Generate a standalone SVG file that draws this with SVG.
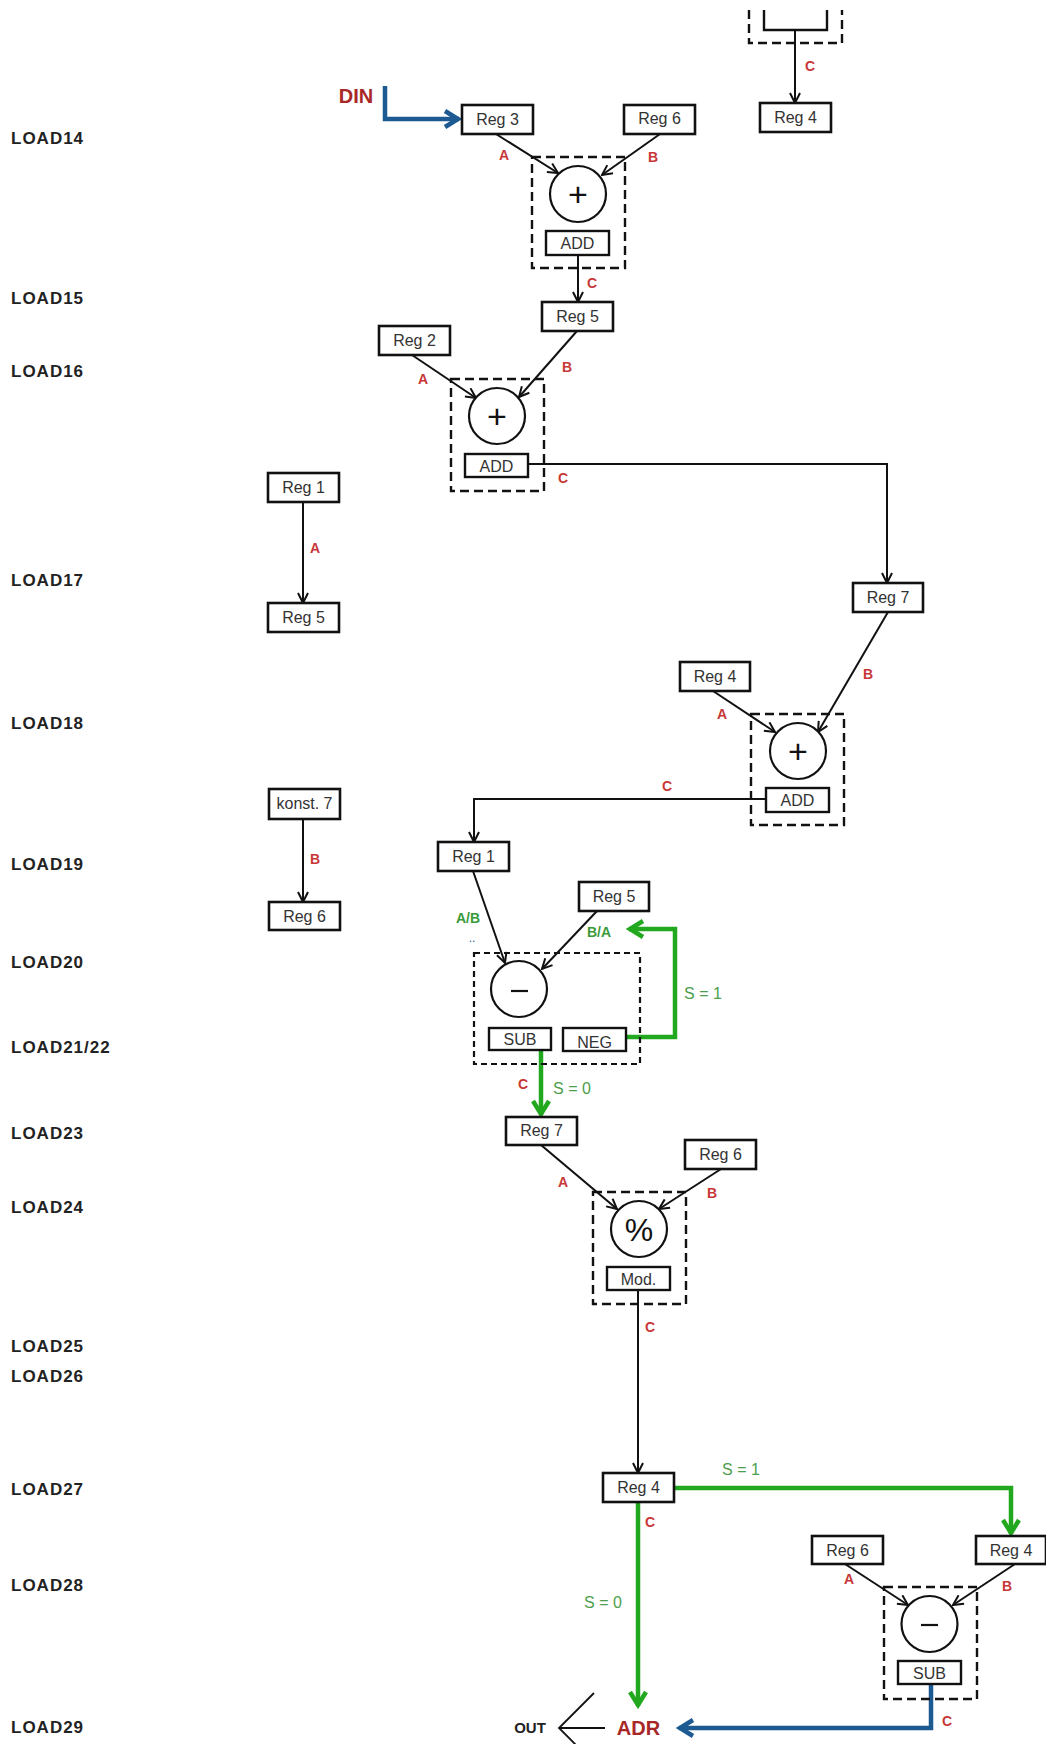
<svg xmlns="http://www.w3.org/2000/svg" width="1046" height="1744" viewBox="0 0 1046 1744">
<style>
.bg{fill:#fff}
.reg{fill:#fff;stroke:#111;stroke-width:2.6}
.op{fill:#fff;stroke:#111;stroke-width:2.4}
.dash{fill:none;stroke:#111;stroke-width:2.4;stroke-dasharray:9 5}
.dash2{fill:none;stroke:#111;stroke-width:2.2;stroke-dasharray:6 4}
.circ{fill:#fff;stroke:#111;stroke-width:2.2}
.t{font-family:"Liberation Sans",Arial,sans-serif;font-size:16px;fill:#333;text-anchor:middle}
.sym{font-family:"Liberation Sans",Arial,sans-serif;fill:#111;text-anchor:middle}
.lbl{font-family:"Liberation Sans",Arial,sans-serif;font-size:14px;font-weight:bold;fill:#c83737;text-anchor:middle}
.glbl{font-family:"Liberation Sans",Arial,sans-serif;font-size:14px;font-weight:bold;fill:#3a9a3a;text-anchor:middle}
.s{font-family:"Liberation Sans",Arial,sans-serif;font-size:16px;fill:#4c9e4c;text-anchor:middle}
.load{font-family:"Liberation Sans",Arial,sans-serif;font-size:17px;font-weight:bold;fill:#222;letter-spacing:1px}
.big{font-family:"Liberation Sans",Arial,sans-serif;font-size:20px;font-weight:bold;fill:#a82828;text-anchor:middle}
.c{fill:none;stroke:#111;stroke-width:2}
.g{fill:none;stroke:#22a81e;stroke-width:4.5}
.b{fill:none;stroke:#1d5a91;stroke-width:4.5}
</style>
<defs>
<marker id="ab" viewBox="0 0 12 12" refX="11" refY="6" markerWidth="12" markerHeight="12" orient="auto" markerUnits="userSpaceOnUse"><path d="M1,1 L11,6 L1,11" fill="none" stroke="#111" stroke-width="2"/></marker>
<marker id="ag" viewBox="0 0 22 22" refX="18" refY="11" markerWidth="22" markerHeight="22" orient="auto" markerUnits="userSpaceOnUse"><path d="M4,3 L17,11 L4,19" fill="none" stroke="#22a81e" stroke-width="4.5"/></marker>
<marker id="abl" viewBox="0 0 22 22" refX="18" refY="11" markerWidth="22" markerHeight="22" orient="auto" markerUnits="userSpaceOnUse"><path d="M4,3 L17,11 L4,19" fill="none" stroke="#1d5a91" stroke-width="4.5"/></marker>
</defs>
<rect class="bg" x="0" y="0" width="1046" height="1744"/>

<g id="load-labels">
<text class="load" x="11" y="144">LOAD14</text>
<text class="load" x="11" y="304">LOAD15</text>
<text class="load" x="11" y="377">LOAD16</text>
<text class="load" x="11" y="586">LOAD17</text>
<text class="load" x="11" y="729">LOAD18</text>
<text class="load" x="11" y="870">LOAD19</text>
<text class="load" x="11" y="968">LOAD20</text>
<text class="load" x="11" y="1053">LOAD21/22</text>
<text class="load" x="11" y="1139">LOAD23</text>
<text class="load" x="11" y="1213">LOAD24</text>
<text class="load" x="11" y="1352">LOAD25</text>
<text class="load" x="11" y="1382">LOAD26</text>
<text class="load" x="11" y="1495">LOAD27</text>
<text class="load" x="11" y="1591">LOAD28</text>
<text class="load" x="11" y="1733">LOAD29</text>
</g>

<g id="connectors">
<path class="c" d="M795,30 V103" marker-end="url(#ab)"/>
<path class="b" d="M385,86 V119 H459" marker-end="url(#abl)"/>
<path class="c" d="M496,134 L558,173" marker-end="url(#ab)"/>
<path class="c" d="M660,134 L602,175" marker-end="url(#ab)"/>
<path class="c" d="M578,255 V302" marker-end="url(#ab)"/>
<path class="c" d="M412,355 L476,398" marker-end="url(#ab)"/>
<path class="c" d="M577,331 L519,397" marker-end="url(#ab)"/>
<path class="c" d="M528,464 H887 V583" marker-end="url(#ab)"/>
<path class="c" d="M303,502 V603" marker-end="url(#ab)"/>
<path class="c" d="M888,612 L818,732" marker-end="url(#ab)"/>
<path class="c" d="M713,691 L775,732" marker-end="url(#ab)"/>
<path class="c" d="M766,799 H474 V842" marker-end="url(#ab)"/>
<path class="c" d="M303,819 V902" marker-end="url(#ab)"/>
<path class="c" d="M473,871 L505,963" marker-end="url(#ab)"/>
<path class="c" d="M597,911 L542,969" marker-end="url(#ab)"/>
<path class="g" d="M626,1037 H675 V929 H629" marker-end="url(#ag)"/>
<path class="g" d="M541,1050 V1115" marker-end="url(#ag)"/>
<path class="c" d="M541,1145 L617,1209" marker-end="url(#ab)"/>
<path class="c" d="M721,1169 L659,1209" marker-end="url(#ab)"/>
<path class="c" d="M638,1290 V1473" marker-end="url(#ab)"/>
<path class="g" d="M674,1488 H1011 V1534" marker-end="url(#ag)"/>
<path class="g" d="M638,1502 V1706" marker-end="url(#ag)"/>
<path class="c" d="M845,1564 L908,1605" marker-end="url(#ab)"/>
<path class="c" d="M1015,1564 L953,1605" marker-end="url(#ab)"/>
<path class="b" d="M931,1684 V1728 H679" marker-end="url(#abl)"/>
<path fill="none" stroke="#111" stroke-width="1.8" d="M605,1728 H559 M594,1693 L559,1728 L594,1763"/>
</g>

<g id="edge-labels">
<text class="lbl" x="810" y="71">C</text>
<text class="lbl" x="504" y="160">A</text>
<text class="lbl" x="653" y="162">B</text>
<text class="lbl" x="592" y="288">C</text>
<text class="lbl" x="423" y="384">A</text>
<text class="lbl" x="567" y="372">B</text>
<text class="lbl" x="563" y="483">C</text>
<text class="lbl" x="315" y="553">A</text>
<text class="lbl" x="868" y="679">B</text>
<text class="lbl" x="722" y="719">A</text>
<text class="lbl" x="667" y="791">C</text>
<text class="lbl" x="315" y="864">B</text>
<text class="glbl" x="468" y="923">A/B</text>
<text x="472" y="942" font-family="Liberation Sans, sans-serif" font-size="12" fill="#1d5a91" text-anchor="middle">..</text>
<text class="glbl" x="599" y="937">B/A</text>
<text class="s" x="703" y="999">S = 1</text>
<text class="lbl" x="523" y="1089">C</text>
<text class="s" x="572" y="1094">S = 0</text>
<text class="lbl" x="563" y="1187">A</text>
<text class="lbl" x="712" y="1198">B</text>
<text class="lbl" x="650" y="1332">C</text>
<text class="s" x="741" y="1475">S = 1</text>
<text class="lbl" x="650" y="1527">C</text>
<text class="s" x="603" y="1608">S = 0</text>
<text class="lbl" x="849" y="1584">A</text>
<text class="lbl" x="1007" y="1591">B</text>
<text class="lbl" x="947" y="1726">C</text>
</g>

<g id="top-partial">
<path class="dash" d="M749,10 V43 H842 V10"/>
<path fill="none" stroke="#111" stroke-width="2.4" d="M764,10 V30 H827 V10"/>
</g>
<g id="reg4-a"><rect class="reg" x="760" y="103" width="71" height="29"/><text class="t" x="795.5" y="123">Reg 4</text></g>
<g id="din"><text class="big" x="356" y="103">DIN</text></g>
<g id="reg3"><rect class="reg" x="462" y="105" width="71" height="29"/><text class="t" x="497.5" y="125">Reg 3</text></g>
<g id="reg6-a"><rect class="reg" x="624" y="105" width="71" height="29"/><text class="t" x="659.5" y="124">Reg 6</text></g>
<g id="add1">
<rect class="dash" x="532" y="157" width="93" height="111"/>
<circle class="circ" cx="578" cy="194" r="28"/>
<text class="sym" x="578" y="206" font-size="34">+</text>
<rect class="op" x="546" y="231" width="63" height="24"/><text class="t" x="577.5" y="249">ADD</text>
</g>
<g id="reg5-a"><rect class="reg" x="542" y="302" width="71" height="29"/><text class="t" x="577.5" y="322">Reg 5</text></g>
<g id="reg2"><rect class="reg" x="379" y="326" width="71" height="29"/><text class="t" x="414.5" y="346">Reg 2</text></g>
<g id="add2">
<rect class="dash" x="451" y="379" width="93" height="112"/>
<circle class="circ" cx="497" cy="416" r="28"/>
<text class="sym" x="497" y="428" font-size="34">+</text>
<rect class="op" x="465" y="454" width="63" height="23"/><text class="t" x="496.5" y="472">ADD</text>
</g>
<g id="reg1-a"><rect class="reg" x="268" y="473" width="71" height="29"/><text class="t" x="303.5" y="493">Reg 1</text></g>
<g id="reg5-b"><rect class="reg" x="268" y="603" width="71" height="29"/><text class="t" x="303.5" y="623">Reg 5</text></g>
<g id="reg7-a"><rect class="reg" x="853" y="583" width="70" height="29"/><text class="t" x="888" y="603">Reg 7</text></g>
<g id="reg4-b"><rect class="reg" x="680" y="662" width="70" height="29"/><text class="t" x="715" y="682">Reg 4</text></g>
<g id="add3">
<rect class="dash" x="751" y="714" width="93" height="111"/>
<circle class="circ" cx="798" cy="751" r="28"/>
<text class="sym" x="798" y="763" font-size="34">+</text>
<rect class="op" x="766" y="788" width="63" height="24"/><text class="t" x="797.5" y="806">ADD</text>
</g>
<g id="konst7"><rect class="reg" x="269" y="789" width="71" height="30"/><text class="t" x="304.5" y="809">konst. 7</text></g>
<g id="reg6-b"><rect class="reg" x="269" y="902" width="71" height="28"/><text class="t" x="304.5" y="922">Reg 6</text></g>
<g id="reg1-b"><rect class="reg" x="438" y="842" width="71" height="29"/><text class="t" x="473.5" y="862">Reg 1</text></g>
<g id="reg5-c"><rect class="reg" x="579" y="882" width="70" height="29"/><text class="t" x="614" y="902">Reg 5</text></g>
<g id="subneg">
<rect class="dash2" x="474" y="953" width="166" height="111"/>
<circle class="circ" cx="519" cy="989" r="28"/>
<line x1="511" y1="991" x2="528" y2="991" stroke="#111" stroke-width="2.2"/>
<rect class="op" x="489" y="1028" width="62" height="22"/><text class="t" x="520" y="1045">SUB</text>
<rect class="op" x="563" y="1028" width="63" height="23"/><text class="t" x="594.5" y="1048">NEG</text>
</g>
<g id="reg7-b"><rect class="reg" x="506" y="1117" width="71" height="28"/><text class="t" x="541.5" y="1136">Reg 7</text></g>
<g id="reg6-c"><rect class="reg" x="685" y="1140" width="71" height="29"/><text class="t" x="720.5" y="1160">Reg 6</text></g>
<g id="mod">
<rect class="dash" x="593" y="1192" width="93" height="112"/>
<circle class="circ" cx="639" cy="1229" r="28"/>
<text class="sym" x="639" y="1241" font-size="32">%</text>
<rect class="op" x="607" y="1267" width="63" height="23"/><text class="t" x="638.5" y="1285">Mod.</text>
</g>
<g id="reg4-c"><rect class="reg" x="603" y="1473" width="71" height="29"/><text class="t" x="638.5" y="1493">Reg 4</text></g>
<g id="reg6-d"><rect class="reg" x="812" y="1536" width="71" height="28"/><text class="t" x="847.5" y="1556">Reg 6</text></g>
<g id="reg4-d"><rect class="reg" x="976" y="1536" width="70" height="28"/><text class="t" x="1011" y="1556">Reg 4</text></g>
<g id="sub2">
<rect class="dash" x="884" y="1587" width="93" height="112"/>
<circle class="circ" cx="929.5" cy="1624" r="28"/>
<line x1="921" y1="1625" x2="938" y2="1625" stroke="#111" stroke-width="2.2"/>
<rect class="op" x="898" y="1661" width="63" height="23"/><text class="t" x="929.5" y="1679">SUB</text>
</g>
<g id="adr"><text class="big" x="638.5" y="1735">ADR</text></g>
<g id="out"><text x="530" y="1733" font-family="Liberation Sans, sans-serif" font-size="15" font-weight="bold" fill="#222" text-anchor="middle">OUT</text></g>
</svg>
